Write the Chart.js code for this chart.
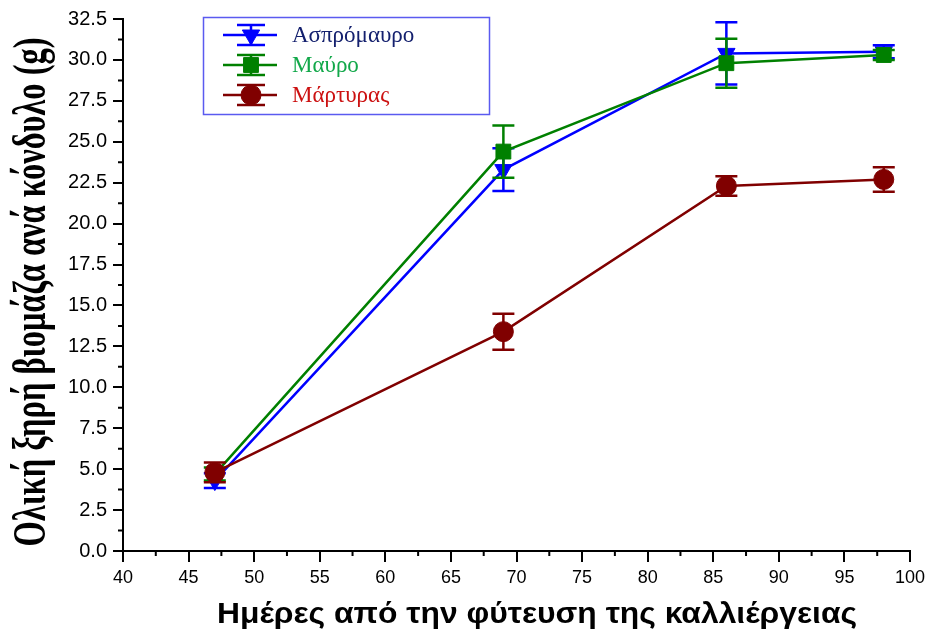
<!DOCTYPE html>
<html>
<head>
<meta charset="utf-8">
<script src="https://cdn.jsdelivr.net/npm/chart.js@4.4.1/dist/chart.umd.min.js"></script>
<style>
  html, body { margin: 0; padding: 0; background: #fff; }
  #wrap { width: 931px; height: 630px; position: relative; }
</style>
</head>
<body>
<div id="wrap"><canvas id="grafico"></canvas></div>
<script>
// Ξηρή βιομάζα ανά κόνδυλο - τρεις μεταχειρίσεις, μέσοι όροι ± σφάλμα

const hmeres = [47, 69, 86, 98];

const aspromavro    = [4.3, 23.3, 30.4, 30.5];
const aspromavroErr = [0.45, 1.3, 1.9, 0.4];

const mavro    = [4.7, 24.4, 29.8, 30.3];
const mavroErr = [0.4, 1.6, 1.5, 0.3];

const martyras    = [4.8, 13.4, 22.3, 22.7];
const martyrasErr = [0.6, 1.1, 0.6, 0.75];

const xTicks = [40, 45, 50, 55, 60, 65, 70, 75, 80, 85, 90, 95, 100];
const yTicks = [0, 2.5, 5, 7.5, 10, 12.5, 15, 17.5, 20, 22.5, 25, 27.5, 30, 32.5];

const titloX = 'Ημέρες από την φύτευση της καλλιέργειας';
const titloY = 'Ολική ξηρή βιομάζα ανά κόνδυλο (g)';

const cores = {
  azul:     '#0000ff',
  verde:    '#008000',
  vermelho: '#800000',
  legAzul:  '#14206e',
  legVerde: '#12a84a',
  legVerm:  '#cc1111',
  moldura:  '#5a5af0',
};

const pontos = (ys) => hmeres.map((x, i) => ({ x, y: ys[i] }));

const series = [
  { label: 'Ασπρόμαυρο', dados: aspromavro, erros: aspromavroErr, cor: cores.azul,     corTexto: cores.legAzul,  estilo: 'triangle', raio: 10,   rot: 180, ordem: 3 },
  { label: 'Μαύρο',      dados: mavro,      erros: mavroErr,      cor: cores.verde,    corTexto: cores.legVerde, estilo: 'rect',     raio: 10.5, rot: 0,   ordem: 2 },
  { label: 'Μάρτυρας',   dados: martyras,   erros: martyrasErr,   cor: cores.vermelho, corTexto: cores.legVerm,  estilo: 'circle',   raio: 10,   rot: 0,   ordem: 1 },
];

// barras de erro desenhadas antes de cada série
const barrasErro = {
  id: 'barrasErro',
  beforeDatasetDraw(chart, args) {
    const ds = chart.data.datasets[args.index];
    if (!ds.erros) return;
    const { ctx, scales: { x, y } } = chart;
    ctx.save();
    ctx.strokeStyle = ds.borderColor;
    ctx.lineWidth = 2.5;
    ds.data.forEach((p, i) => {
      const px = x.getPixelForValue(p.x);
      const top = y.getPixelForValue(p.y + ds.erros[i]);
      const bot = y.getPixelForValue(p.y - ds.erros[i]);
      ctx.beginPath();
      ctx.moveTo(px, top); ctx.lineTo(px, bot);
      ctx.moveTo(px - 11, top); ctx.lineTo(px + 11, top);
      ctx.moveTo(px - 11, bot); ctx.lineTo(px + 11, bot);
      ctx.stroke();
    });
    ctx.restore();
  },
};

// marcas menores entre os ticks principais
const ticksMenores = {
  id: 'ticksMenores',
  afterDraw(chart) {
    const { ctx, scales: { x, y } } = chart;
    ctx.save();
    ctx.strokeStyle = '#000';
    ctx.lineWidth = 2;
    ctx.beginPath();
    for (let i = 0; i < xTicks.length - 1; i++) {
      const px = x.getPixelForValue((xTicks[i] + xTicks[i + 1]) / 2);
      ctx.moveTo(px, x.top); ctx.lineTo(px, x.top + 5);
    }
    for (let i = 0; i < yTicks.length - 1; i++) {
      const py = y.getPixelForValue((yTicks[i] + yTicks[i + 1]) / 2);
      ctx.moveTo(y.right, py); ctx.lineTo(y.right - 5, py);
    }
    ctx.stroke();
    ctx.restore();
  },
};

// títulos dos eixos, ajustados ao comprimento do original
const titulos = {
  id: 'titulos',
  afterDraw(chart) {
    const ctx = chart.ctx;
    ctx.save();
    ctx.fillStyle = '#000';
    ctx.textBaseline = 'alphabetic';
    ctx.textAlign = 'center';

    ctx.font = 'bold 29px "Liberation Sans", Arial, sans-serif';
    let w = ctx.measureText(titloX).width;
    ctx.save();
    ctx.translate(537, 623);
    ctx.scale(640 / w, 1);
    ctx.fillText(titloX, 0, 0);
    ctx.restore();

    ctx.font = 'bold 46px "Liberation Serif", "Times New Roman", serif';
    w = ctx.measureText(titloY).width;
    ctx.save();
    ctx.translate(45, 292);
    ctx.rotate(-Math.PI / 2);
    ctx.scale(509 / w, 1);
    ctx.fillText(titloY, 0, 0);
    ctx.restore();

    ctx.restore();
  },
};

// legenda com barras de erro, como no original
const legenda = {
  id: 'legenda',
  afterDraw(chart) {
    const ctx = chart.ctx;
    ctx.save();
    ctx.strokeStyle = cores.moldura;
    ctx.lineWidth = 1.5;
    ctx.strokeRect(203.5, 17.5, 286, 97);
    series.forEach((s, i) => {
      const yy = 35 + i * 30;
      ctx.strokeStyle = s.cor;
      ctx.fillStyle = s.cor;
      ctx.lineWidth = 2.5;
      ctx.beginPath();
      ctx.moveTo(223, yy); ctx.lineTo(277, yy);
      ctx.moveTo(251, yy - 10); ctx.lineTo(251, yy + 10);
      ctx.moveTo(237, yy - 10); ctx.lineTo(265, yy - 10);
      ctx.moveTo(237, yy + 10); ctx.lineTo(265, yy + 10);
      ctx.stroke();
      ctx.lineWidth = 1;
      Chart.helpers.drawPoint(ctx, { pointStyle: s.estilo, radius: s.raio, rotation: s.rot, borderWidth: 1 }, 251, yy);
      ctx.fillStyle = s.corTexto;
      ctx.font = '23px "Liberation Serif", "Times New Roman", serif';
      ctx.textBaseline = 'middle';
      ctx.textAlign = 'left';
      ctx.fillText(s.label, 292, yy + 1);
    });
    ctx.restore();
  },
};

const fonteTick = (size) => ({ family: '"Liberation Sans", Arial, sans-serif', size });

new Chart(document.getElementById('grafico'), {
  type: 'line',
  data: {
    datasets: series.map((s) => ({
      label: s.label,
      data: pontos(s.dados),
      erros: s.erros,
      order: s.ordem,
      borderColor: s.cor,
      backgroundColor: s.cor,
      borderWidth: 2.5,
      pointStyle: s.estilo,
      pointRadius: s.raio,
      pointRotation: s.rot,
      pointBackgroundColor: s.cor,
      pointBorderColor: s.cor,
      pointBorderWidth: 1,
      tension: 0,
      fill: false,
    })),
  },
  options: {
    responsive: true,
    maintainAspectRatio: false,
    animation: false,
    events: [],
    layout: { padding: { top: 19, right: 21, left: 0, bottom: 0 } },
    plugins: { legend: { display: false }, tooltip: { enabled: false } },
    scales: {
      x: {
        type: 'linear',
        min: 40, max: 100,
        afterBuildTicks: (s) => { s.ticks = xTicks.map((v) => ({ value: v })); },
        afterFit: (s) => { s.height = 79; },
        ticks: { color: '#000', font: fonteTick(18), padding: 5, maxRotation: 0, autoSkip: false },
        grid: { display: true, drawOnChartArea: false, tickLength: 11, color: '#000', lineWidth: 2 },
        border: { display: true, color: '#000', width: 2 },
      },
      y: {
        type: 'linear',
        min: 0, max: 32.5,
        afterBuildTicks: (s) => { s.ticks = yTicks.map((v) => ({ value: v })); },
        afterFit: (s) => { s.width = 123; },
        ticks: { color: '#000', font: fonteTick(20), padding: 6, autoSkip: false, callback: (v) => v.toFixed(1) },
        grid: { display: true, drawOnChartArea: false, tickLength: 10, color: '#000', lineWidth: 2 },
        border: { display: true, color: '#000', width: 2 },
      },
    },
  },
  plugins: [barrasErro, ticksMenores, titulos, legenda],
});
</script>
</body>
</html>
